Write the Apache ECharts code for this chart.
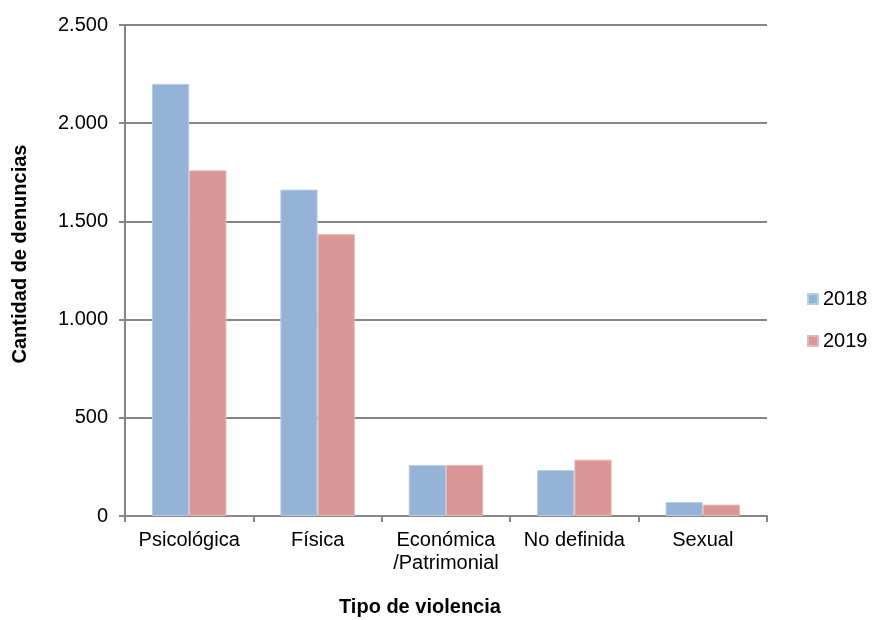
<!DOCTYPE html>
<html><head><meta charset="utf-8">
<script src="https://cdn.jsdelivr.net/npm/echarts@6/dist/echarts.min.js"></script>
<style>html,body{margin:0;padding:0;background:#fff}#c{width:873px;height:620px}</style>
</head><body><div id="c"></div>
<script>
var categories = ['Psicológica', 'Física', 'Económica\n/Patrimonial', 'No definida', 'Sexual'];
var s2018 = [2200, 1662, 260, 234, 71];
var s2019 = [1760, 1435, 260, 287, 58];
var seriesNames = ['2018', '2019'];
var xTitle = 'Tipo de violencia';
var yTitle = 'Cantidad de denuncias';

var chart = echarts.init(document.getElementById('c'));
var font = 'Liberation Sans, Arial, sans-serif';
function fmt(v){ return String(v).replace(/\B(?=(\d{3})+(?!\d))/g, '.'); }
chart.setOption({
  animation: false,
  textStyle: {fontFamily: font},
  grid: {left: 125, right: 106, top: 25, bottom: 104},
  legend: {
    orient: 'vertical', left: 802, top: 284, itemWidth: 10, itemHeight: 10, itemGap: 22,
    icon: 'rect', textStyle: {fontSize: 20, color: '#000', fontFamily: font},
    data: seriesNames
  },
  graphic: [
    {type: 'text', left: 339, top: 597, style: {text: xTitle, font: 'bold 20px ' + font, fill: '#000'}},
    {type: 'text', rotation: Math.PI / 2, x: 20, y: 254,
     style: {text: yTitle, font: 'bold 20px ' + font, fill: '#000', align: 'center', verticalAlign: 'middle'}}
  ],
  xAxis: {
    type: 'category', data: categories,
    axisLine: {lineStyle: {color: '#868686', width: 2}},
    axisTick: {show: true, length: 6, lineStyle: {color: '#868686', width: 2}, inside: false},
    axisLabel: {interval: 0, fontSize: 20, color: '#000', margin: 13, lineHeight: 23, fontFamily: font}
  },
  yAxis: {
    type: 'value', min: 0, max: 2500, interval: 500,
    axisLine: {show: true, lineStyle: {color: '#868686', width: 2}},
    axisTick: {show: true, length: 6, lineStyle: {color: '#868686', width: 2}},
    axisLabel: {fontSize: 20, color: '#000', margin: 17, formatter: fmt, fontFamily: font},
    splitLine: {lineStyle: {color: '#868686', width: 2}}
  },
  series: [
    {name: seriesNames[0], type: 'bar', data: s2018, barGap: '0%', barCategoryGap: '42%',
     itemStyle: {color: '#95B3D7', borderColor: '#B9CDE5', borderWidth: 1}},
    {name: seriesNames[1], type: 'bar', data: s2019, barGap: '0%', barCategoryGap: '42%',
     itemStyle: {color: '#D99694', borderColor: '#E6B9B8', borderWidth: 1}}
  ]
});
</script></body></html>
